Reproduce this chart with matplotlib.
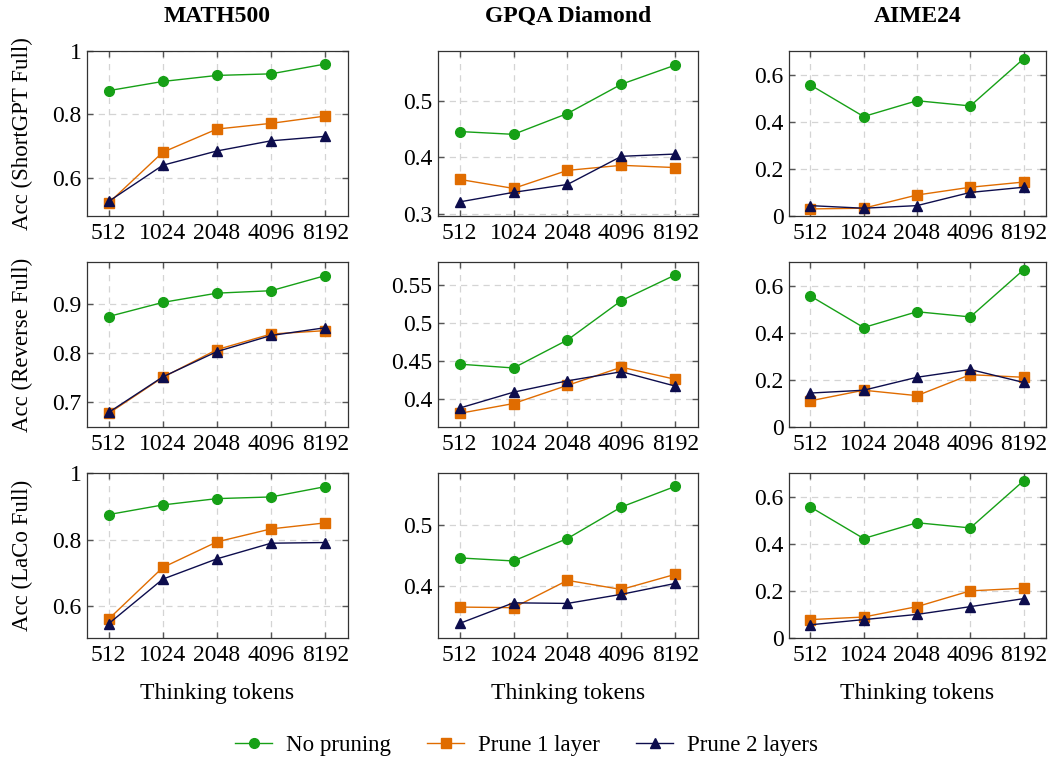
import matplotlib
matplotlib.use("Agg")
import matplotlib.pyplot as plt
import numpy as np

plt.rcParams["font.family"] = ["Liberation Serif", "DejaVu Serif"]
plt.rcParams["mathtext.fontset"] = "stix"

tokens = ["512", "1024", "2048", "4096", "8192"]
benchmarks = ["MATH500", "GPQA Diamond", "AIME24"]
settings = ["ShortGPT Full", "Reverse Full", "LaCo Full"]

# No pruning (shared across rows)
base_math = [0.875, 0.904, 0.923, 0.928, 0.959]
base_gpqa = [0.446, 0.441, 0.478, 0.530, 0.564]
base_aime = [0.556, 0.422, 0.489, 0.467, 0.667]

# ShortGPT
shortgpt_p1_math = [0.521, 0.681, 0.754, 0.772, 0.795]
shortgpt_p2_math = [0.526, 0.640, 0.685, 0.717, 0.731]
shortgpt_p1_gpqa = [0.361, 0.345, 0.377, 0.386, 0.382]
shortgpt_p2_gpqa = [0.321, 0.338, 0.352, 0.402, 0.406]
shortgpt_p1_aime = [0.030, 0.033, 0.089, 0.122, 0.144]
shortgpt_p2_aime = [0.044, 0.033, 0.044, 0.100, 0.122]

# Reverse
reverse_p1_math = [0.676, 0.750, 0.807, 0.839, 0.846]
reverse_p2_math = [0.678, 0.751, 0.803, 0.836, 0.852]
reverse_p1_gpqa = [0.381, 0.394, 0.418, 0.442, 0.426]
reverse_p2_gpqa = [0.388, 0.409, 0.424, 0.436, 0.417]
reverse_p1_aime = [0.111, 0.156, 0.133, 0.222, 0.211]
reverse_p2_aime = [0.144, 0.156, 0.211, 0.244, 0.189]

# LaCo
laco_p1_math = [0.561, 0.716, 0.793, 0.832, 0.850]
laco_p2_math = [0.547, 0.681, 0.742, 0.789, 0.791]
laco_p1_gpqa = [0.365, 0.364, 0.409, 0.394, 0.419]
laco_p2_gpqa = [0.338, 0.372, 0.371, 0.386, 0.404]
laco_p1_aime = [0.078, 0.089, 0.133, 0.200, 0.211]
laco_p2_aime = [0.056, 0.078, 0.100, 0.133, 0.167]

grid_data = [
    [(base_math, shortgpt_p1_math, shortgpt_p2_math),
     (base_gpqa, shortgpt_p1_gpqa, shortgpt_p2_gpqa),
     (base_aime, shortgpt_p1_aime, shortgpt_p2_aime)],
    [(base_math, reverse_p1_math, reverse_p2_math),
     (base_gpqa, reverse_p1_gpqa, reverse_p2_gpqa),
     (base_aime, reverse_p1_aime, reverse_p2_aime)],
    [(base_math, laco_p1_math, laco_p2_math),
     (base_gpqa, laco_p1_gpqa, laco_p2_gpqa),
     (base_aime, laco_p1_aime, laco_p2_aime)],
]

ylims = [
    [(0.48, 1.0), (0.296, 0.589), (0.0, 0.70)],
    [(0.648, 0.987), (0.363, 0.581), (0.0, 0.70)],
    [(0.504, 1.0), (0.314, 0.586), (0.0, 0.70)],
]
yticks = [
    [[0.6, 0.8, 1.0], [0.3, 0.4, 0.5], [0, 0.2, 0.4, 0.6]],
    [[0.7, 0.8, 0.9], [0.4, 0.45, 0.5, 0.55], [0, 0.2, 0.4, 0.6]],
    [[0.6, 0.8, 1.0], [0.4, 0.5], [0, 0.2, 0.4, 0.6]],
]

series_names = ["No pruning", "Prune 1 layer", "Prune 2 layers"]
colors = ["#16a016", "#e06c00", "#0d0d4d"]
markers = ["o", "s", "^"]
msizes = [7, 6.5, 7.2]

W, H = 1053, 760
fig = plt.figure(figsize=(W / 100, H / 100), dpi=100)

col_lr = [(87, 348), (438, 698), (789, 1046)]
row_tb = [(51, 216), (262, 427), (473, 638)]

def fmt(v):
    if abs(v - round(v)) < 1e-9:
        return str(int(round(v)))
    s = f"{v:.2f}".rstrip("0")
    return s

FS = 17
x = np.arange(len(tokens))
handles = None
for r in range(3):
    for c in range(3):
        l, rr = col_lr[c]
        t, b = row_tb[r]
        ax = fig.add_axes([l / W, 1 - b / H, (rr - l) / W, (b - t) / H])
        lines = []
        for k in range(3):
            ln, = ax.plot(x, grid_data[r][c][k], color=colors[k], marker=markers[k],
                          markersize=msizes[k], linewidth=1.0, zorder=3 + k)
            lines.append(ln)
        handles = lines
        ax.set_xlim(-0.4, 4.42)
        ax.set_ylim(*ylims[r][c])
        ax.set_xticks(x)
        ax.set_xticklabels(tokens)
        ax.set_yticks(yticks[r][c])
        ax.set_yticklabels([fmt(v) for v in yticks[r][c]])
        ax.grid(True, linestyle=(0, (5, 4)), color="#d4d4d4", linewidth=0.9, zorder=0)
        ax.tick_params(direction="in", length=4, width=1.0, color="#555555",
                       top=True, right=True, labelsize=FS, pad=4)
        ax.tick_params(axis="x", pad=5)
        for sp in ax.spines.values():
            sp.set_linewidth(0.9)
            sp.set_color("#333333")
        if c == 0:
            ax.set_ylabel(f"Acc ({settings[r]})", fontsize=16.5, labelpad=14)
        if r == 0:
            ax.set_title(benchmarks[c], fontsize=17, fontweight="bold", pad=21)
        if r == 2:
            ax.set_xlabel("Thinking tokens", fontsize=FS, labelpad=12)

fig.legend(handles, series_names, loc="center", bbox_to_anchor=(0.5, 1 - 745 / H),
           ncol=3, frameon=False, fontsize=16.5, handlelength=1.6, columnspacing=1.6,
           handletextpad=0.6)

fig.savefig("out.png", dpi=100)
